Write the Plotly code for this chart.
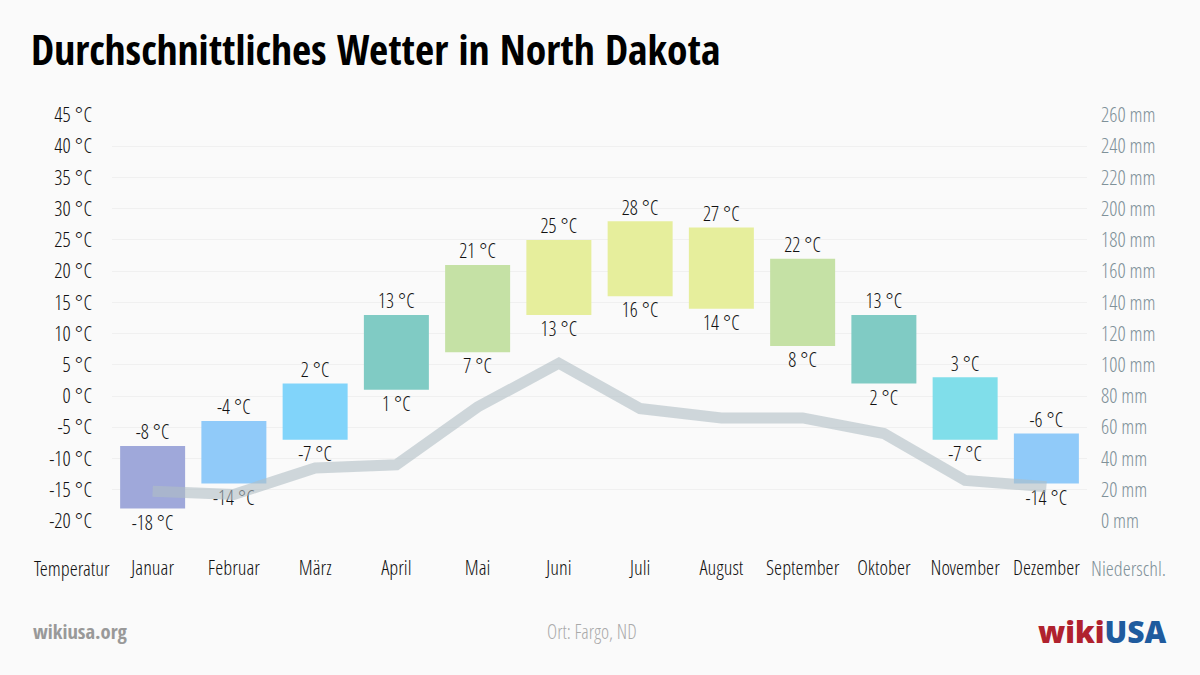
import plotly.graph_objects as go

months = ["Januar", "Februar", "März", "April", "Mai", "Juni", "Juli",
          "August", "September", "Oktober", "November", "Dezember"]
temp_high = [-8, -4, 2, 13, 21, 25, 28, 27, 22, 13, 3, -6]
temp_low = [-18, -14, -7, 1, 7, 13, 16, 14, 8, 2, -7, -14]
precip = [19, 17, 34, 36, 73, 101, 72, 66, 66, 56, 26, 22]
bar_colors = ["#9fa8da", "#90caf9", "#81d4fa", "#80cbc4", "#c5e1a5", "#e6ee9c",
              "#e6ee9c", "#e6ee9c", "#c5e1a5", "#80cbc4", "#80deea", "#90caf9"]
temp_ticks = list(range(-20, 50, 5))
precip_ticks = list(range(0, 280, 20))

FONT_L = "Open Sans Condensed Light, Open Sans Condensed, Liberation Sans Narrow, Open Sans"
FONT_B = "Open Sans Condensed, Open Sans Condensed Bold, Liberation Sans Narrow, Open Sans"
BG = "#fafafa"
TXT = "#111"
GREY = "#7f9199"


def f(size, color=TXT, bold=False):
    if bold:
        return dict(family=FONT_B, size=size, color=color, weight=700)
    return dict(family=FONT_L, size=size, color=color, weight=300)


x = list(range(1, 13))
fig = go.Figure()

fig.add_trace(go.Bar(
    x=x, y=[h - l for h, l in zip(temp_high, temp_low)], base=temp_low,
    width=0.8, marker=dict(color=bar_colors, line=dict(width=0)),
    hoverinfo="skip", showlegend=False,
))
fig.add_trace(go.Scatter(
    x=x, y=temp_high, mode="markers+text", text=[f"{v} °C" for v in temp_high],
    marker=dict(size=1, color="rgba(0,0,0,0)"),
    textposition="top center", textfont=f(20),
    cliponaxis=False, showlegend=False, hoverinfo="skip",
))
fig.add_trace(go.Scatter(
    x=x, y=temp_low, mode="markers+text", text=[f"{v} °C" for v in temp_low],
    marker=dict(size=8, color="rgba(0,0,0,0)"),
    textposition="bottom center", textfont=f(20),
    cliponaxis=False, showlegend=False, hoverinfo="skip",
))
fig.add_trace(go.Scatter(
    x=x, y=precip, yaxis="y2", mode="lines",
    line=dict(color="rgba(176,190,197,0.6)", width=11),
    showlegend=False, hoverinfo="skip",
))

fig.update_layout(
    width=1200, height=675,
    paper_bgcolor=BG, plot_bgcolor=BG,
    margin=dict(l=112, r=113, t=115, b=154),
    font=f(20),
    title=dict(text="Durchschnittliches Wetter in North Dakota",
               x=31 / 1200, xanchor="left", y=1 - 50 / 675, yanchor="middle",
               font=f(41.5, "#000", True)),
    xaxis=dict(range=[0.5, 12.5], tickvals=x, ticktext=months, showgrid=False,
               zeroline=False, showline=False, ticks="", ticklabelstandoff=32,
               tickfont=f(20.5)),
    yaxis=dict(range=[-20, 45], tickvals=temp_ticks,
               ticktext=[f"{v} °C" for v in temp_ticks],
               showgrid=True, gridcolor="#f0f0f0", gridwidth=1, zeroline=False,
               ticks="", ticklabelstandoff=19,
               tickfont=f(20.5)),
    yaxis2=dict(range=[0, 260], tickvals=precip_ticks,
                ticktext=[f"{v} mm" for v in precip_ticks],
                overlaying="y", side="right", showgrid=False, zeroline=False,
                ticks="", ticklabelstandoff=13,
                tickfont=f(20.5, GREY)),
    bargap=0.2,
)


def px_x(p):
    return (p - 112) / 975


def px_y(p):
    return (521 - p) / 406


fig.add_annotation(text="Temperatur", xref="paper", yref="paper",
                   x=px_x(72), y=px_y(568), xanchor="center", yanchor="middle",
                   showarrow=False, font=f(20.5))
fig.add_annotation(text="Niederschl.", xref="paper", yref="paper",
                   x=px_x(1128), y=px_y(568), xanchor="center", yanchor="middle",
                   showarrow=False, font=f(20.5, GREY))
fig.add_annotation(text="wikiusa.org", xref="paper", yref="paper",
                   x=px_x(31), y=px_y(631), xanchor="left", yanchor="middle",
                   showarrow=False, font=f(20.5, "#999", True))
fig.add_annotation(text="Ort: Fargo, ND", xref="paper", yref="paper",
                   x=px_x(592), y=px_y(631), xanchor="center", yanchor="middle",
                   showarrow=False, font=f(19.5, "#aaa"))
fig.add_annotation(text="<span style='color:#b0222e'>wiki</span><span style='color:#1f5b9e'>USA</span>",
                   xref="paper", yref="paper",
                   x=px_x(1169), y=px_y(631), xanchor="right", yanchor="middle",
                   showarrow=False, font=dict(family="Open Sans", size=30, weight=800))

fig.write_html("out.html", config={"displayModeBar": False},
               post_script="document.body.style.margin='0';document.body.style.overflow='hidden';")
